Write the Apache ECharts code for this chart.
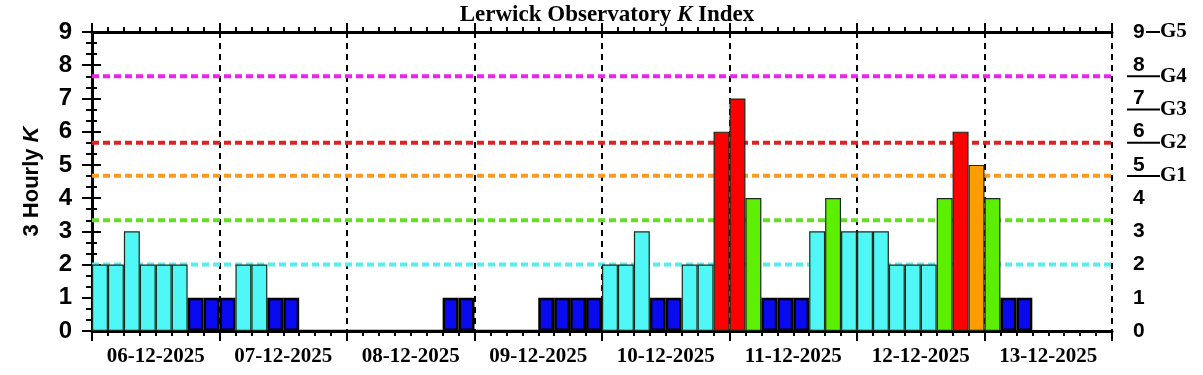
<!DOCTYPE html>
<html>
<head>
<meta charset="utf-8">
<script src="https://cdn.jsdelivr.net/npm/echarts@6/dist/echarts.min.js"></script>
<style>html,body{margin:0;background:#fff}#main{width:1203px;height:375px}</style>
</head>
<body>
<div id="main"></div>
<script>
// 数据
var days = ['06-12-2025', '07-12-2025', '08-12-2025', '09-12-2025',
	'10-12-2025', '11-12-2025', '12-12-2025', '13-12-2025'];
var kValues = [
	2, 2, 3, 2, 2, 2, 1, 1,
	1, 2, 2, 1, 1, 0, 0, 0,
	0, 0, 0, 0, 0, 0, 1, 1,
	0, 0, 0, 0, 1, 1, 1, 1,
	2, 2, 3, 1, 1, 2, 2, 6,
	7, 4, 1, 1, 1, 3, 4, 3,
	3, 3, 2, 2, 2, 4, 6, 5,
	4, 1, 1, null, null, null, null, null
];
var levels = [2, 3.33, 4.67, 5.67, 7.67];
var levelColors = ['#55eeee', '#66dd22', '#ff9922', '#dd2222', '#ee22ee'];
var gLevels = [4.67, 5.67, 6.67, 7.67, 9];
var gNames = ['G1', 'G2', 'G3', 'G4', 'G5'];

function kColor(k) {
	if (k <= 1) return '#0a0af0';
	if (k <= 3) return '#4ff7f7';
	if (k === 4) return '#5cf000';
	if (k === 5) return '#ff9c00';
	if (k <= 7) return '#ff0000';
	return '#ff00ff';
}

var cats = kValues.map(function (v, i) { return i; });
var barData = kValues.map(function (k) {
	if (k === null) return '-';
	return {
		value: k,
		itemStyle: {
			color: kColor(k),
			borderColor: k <= 1 ? '#000' : '#1a2a1a',
			borderWidth: k <= 1 ? 2.5 : 1.2
		}
	};
});

var sans = 'Liberation Sans';
var serif = 'Liberation Serif';

var series = levels.map(function (lv, i) {
	return {
		type: 'line',
		xAxisIndex: 1,
		yAxisIndex: 0,
		data: [[0, lv], [64, lv]],
		symbol: 'none',
		silent: true,
		z: 1,
		lineStyle: { color: levelColors[i], width: 4, type: [7, 4] }
	};
});
series.push({
	type: 'bar',
	xAxisIndex: 0,
	yAxisIndex: 0,
	data: barData,
	barWidth: '100%',
	z: 3
});

var myChart = echarts.init(document.getElementById('main'));
var option = {
	animation: false,
	backgroundColor: '#fff',
	title: {
		text: '{a|Lerwick Observatory }{k|K}{a| Index}',
		left: 602,
		textAlign: 'center',
		top: -1,
		textStyle: {
			rich: {
				a: { fontFamily: serif, fontWeight: 'bold', fontSize: 23, color: '#000' },
				k: { fontFamily: serif, fontWeight: 'bold', fontStyle: 'italic', fontSize: 23, color: '#000' }
			}
		}
	},
	grid: { left: 92, right: 91, top: 32, bottom: 44 },
	xAxis: [{
		type: 'category',
		data: cats,
		boundaryGap: true,
		position: 'bottom',
		axisLine: { show: false },
		axisTick: { show: false },
		axisLabel: { show: false }
	}, {
		type: 'value',
		min: 0, max: 64, interval: 8,
		position: 'bottom',
		axisLine: { show: true, lineStyle: { color: '#000', width: 3 } },
		axisTick: { show: true, length: 10, lineStyle: { color: '#000', width: 2 } },
		minorTick: { show: true, splitNumber: 8, length: 5, lineStyle: { color: '#000', width: 2 } },
		axisLabel: { show: false },
		splitLine: { show: true, lineStyle: { color: '#000', width: 2, type: [6, 5] } }
	}, {
		type: 'value',
		min: 0, max: 64, interval: 4,
		position: 'bottom',
		axisLine: { show: false },
		axisTick: { show: false },
		splitLine: { show: false },
		axisLabel: {
			margin: 15,
			fontFamily: serif, fontWeight: 'bold', fontSize: 21, color: '#000',
			formatter: function (v) {
				return v % 8 === 4 ? days[(v - 4) / 8] : '';
			}
		}
	}, {
		type: 'value',
		min: 0, max: 64, interval: 8,
		position: 'top',
		axisLine: { show: true, lineStyle: { color: '#000', width: 3 } },
		axisTick: { show: true, length: 9, lineStyle: { color: '#000', width: 2 } },
		minorTick: { show: true, splitNumber: 8, length: 5, lineStyle: { color: '#000', width: 2 } },
		axisLabel: { show: false },
		splitLine: { show: false }
	}],
	yAxis: [{
		type: 'value',
		min: 0, max: 9, interval: 1,
		position: 'left',
		name: '{a|3 Hourly }{k|K}',
		nameLocation: 'middle',
		nameGap: 49,
		nameTextStyle: {
			rich: {
				a: { fontFamily: sans, fontWeight: 'bold', fontSize: 22, color: '#000' },
				k: { fontFamily: sans, fontWeight: 'bold', fontStyle: 'italic', fontSize: 22, color: '#000' }
			}
		},
		axisLine: { show: true, lineStyle: { color: '#000', width: 3 } },
		axisTick: { show: true, length: 10, lineStyle: { color: '#000', width: 2 } },
		minorTick: { show: true, splitNumber: 3, length: 6, lineStyle: { color: '#000', width: 2 } },
		splitLine: { show: false },
		axisLabel: { margin: 20, fontFamily: sans, fontWeight: 'bold', fontSize: 24, color: '#000' }
	}, {
		type: 'value',
		min: 0, max: 9, interval: 1,
		position: 'right',
		axisLine: { show: true, lineStyle: { color: '#000', width: 3 } },
		axisTick: { show: true, length: 9, lineStyle: { color: '#000', width: 2 } },
		minorTick: { show: true, splitNumber: 3, length: 5, lineStyle: { color: '#000', width: 2 } },
		splitLine: { show: false },
		axisLabel: { margin: 21, fontFamily: sans, fontWeight: 'bold', fontSize: 21, color: '#000' }
	}, {
		type: 'value',
		min: 0, max: 27, interval: 1,
		position: 'right',
		offset: 15,
		axisLine: { show: false },
		axisTick: { show: false },
		splitLine: { show: false },
		axisLabel: {
			margin: 0,
			formatter: function (v) {
				for (var i = 0; i < gLevels.length; i++) {
					if (Math.round(gLevels[i] * 3) === v) {
						if (gNames[i] === 'G5') return '{sp|}{l5|}{g|' + gNames[i] + '}';
						return '{ln|}{g|' + gNames[i] + '}';
					}
				}
				return '';
			},
			rich: {
				sp: { width: 19, height: 2 },
				l5: { width: 14, height: 2, backgroundColor: '#000' },
				ln: { width: 33, height: 2, backgroundColor: '#000' },
				g: { fontFamily: serif, fontWeight: 'bold', fontSize: 21, color: '#000' }
			}
		}
	}],
	series: series
};
myChart.setOption(option);
</script>
</body>
</html>
